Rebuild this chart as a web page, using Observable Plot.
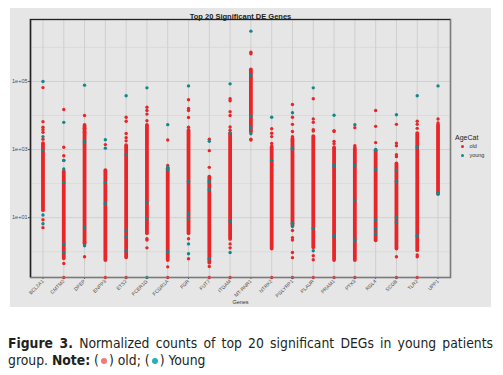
<!DOCTYPE html>
<html>
<head>
<meta charset="utf-8">
<script src="https://cdn.jsdelivr.net/npm/d3@7"></script>
<script src="https://cdn.jsdelivr.net/npm/@observablehq/plot@0.6"></script>
<style>
  html, body { margin: 0; padding: 0; background: #fff; }
  #wrap { position: relative; width: 503px; height: 375px; overflow: hidden; font-family: "Liberation Sans", Arial, sans-serif; }
  #panel { position: absolute; left: 10px; top: 8px; width: 481px; height: 299px; background: #e6e6e6; }
  #chart { position: absolute; left: 0; top: 0; }
  #legend { position: absolute; left: 455px; top: 133px; font-size: 7px; color: #222; line-height: 9px; }
  #legend .item { display: flex; align-items: center; font-size: 5.5px; color: #333; margin-left: 6px; }
  #legend .sw { display: inline-block; width: 3.4px; height: 3.4px; border-radius: 50%; margin-right: 5px; }
  #caption { position: absolute; left: 8px; top: 335px; width: 485px; font-family: "DejaVu Sans Condensed", "DejaVu Sans", sans-serif; font-stretch: condensed; font-size: 13.8px; line-height: 17px; color: #231f20; text-align: justify; }
  #caption b { font-weight: bold; }
  .cdot { display: inline-block; width: 6px; height: 6px; border-radius: 50%; vertical-align: 1px; margin: 0 2px; }
</style>
</head>
<body>
<div id="wrap">
  <div id="panel"></div>
  <div id="chart"></div>
  <div id="legend"></div>
  <div id="caption"></div>
</div>
<script>
// ---- data ----
const genes = ["BCL2A1","CMTM2","DPEP","ENPP3","ETS2","FCER1G","FCGR1A","FGR","FUT7","ITGAM",
               "MT-RNR1","NTRK2","PGLYRP1","PLAUR","PRAM1","PTX3","RGL4","SCGB","TLR2","UPP1"];
// dense range of "old" samples per gene (normalized counts)
const denseLow  = [16, 0.62, 1.7, 0.55, 0.66, 3.4, 0.55, 3.4, 0.46, 2.3, 3200, 1.2, 5.8, 1.3, 0.55, 0.55, 2.1, 1.2, 1.07, 48];
const denseHigh = [1500, 220, 5100, 240, 1300, 5100, 275, 3600, 155, 2900, 220000, 1170, 2050, 2400, 1070, 1000, 930, 380, 2950, 5100];
// scattered "old" samples outside / at edges of the dense range (0 = zero count)
const oldPoints = [
  [66000, 6600, 4500, 3800, 3200, 2000, 8.7, 5.1],
  [15000, 1170, 660, 480, 0.45, 0],
  [10000, 4200, 3200, 1.9, 0.71],
  [1400, 0],
  [8900, 6800, 2950, 2240, 1800, 0],
  [17400, 14000, 11000, 7000, 5000, 2.4, 2.2, 1.3],
  [1900, 340, 0.36, 0],
  [29000, 16000, 14000, 8700, 4500, 2.4, 0.62],
  [2000, 930, 300, 0.37, 0],
  [31000, 27000, 13000, 10000, 4600, 3700, 1.7, 1.3, 0],
  [720000, 650000, 2000, 1900],
  [4100, 3000, 2400, 1500, 0],
  [21000, 8900, 5500, 3400, 2400, 1800, 4.2, 2.6, 2.2, 0.95, 0.67, 0],
  [31000, 7900, 6300, 3800, 3500, 0.76, 0.58, 0],
  [3600, 3400, 1740, 1480, 1170, 0],
  [4400, 1300, 1150, 0],
  [14000, 4800, 1600],
  [5500, 1550, 1300, 710, 620, 0.71, 0],
  [6800, 5500, 4200, 0.81, 0.71, 0],
  [7900, 6000]
];
// "young" samples per gene
const youngPoints = [
  [100000, 2400, 930, 12, 6.6],
  [6300, 480, 270, 107, 1.7, 0.93],
  [78000, 1800, 1600, 5.1, 1.5],
  [1950, 1100, 107, 26],
  [38000, 710, 4.2, 2.75, 1.07],
  [65000, 28, 9.3, 0],
  [5400, 300, 260, 1.0],
  [74000, 117, 13, 9.5, 1.7, 0.87],
  [1740, 115, 66, 0.62],
  [85000, 3100, 7.8, 0.95],
  [3000000, 150000, 9500, 4400, 2900],
  [8900, 480],
  [12000, 1100, 1050, 6.8, 5.5],
  [65000, 4.8, 1.07],
  [10200, 360, 320, 2.95, 2.8],
  [5400, 340, 32, 2.2, 2.1],
  [1000, 940, 260, 8.5, 4.7, 3.3],
  [10500, 240, 117, 10.2, 7.2],
  [38000, 1170, 2.95],
  [74000, 55, 50]
];
const ageCats = ["old", "young"];
const ageColors = ["#e8262a", "#12888c"];
const yTicks = [10, 1000, 100000];
const yTickLabels = ["1e+01", "1e+03", "1e+05"];
const yMinor = [1, 100, 10000, 1000000];
const yFloor = 0.175; // zero counts drawn on the bottom edge

// ---- build tables ----
const ranges = genes.map((g, i) => ({gene: g, lo: denseLow[i], hi: denseHigh[i]}));
const pts = [];
genes.forEach((g, i) => {
  oldPoints[i].forEach(v => pts.push({gene: g, value: v === 0 ? yFloor : v, age: "old"}));
});
const ypts = [];
genes.forEach((g, i) => {
  youngPoints[i].forEach(v => ypts.push({gene: g, value: v === 0 ? yFloor : v, age: "young"}));
});

const chart = Plot.plot({
  width: 503,
  height: 310,
  marginLeft: 30,
  marginTop: 19,
  marginRight: 53,
  marginBottom: 33,
  style: {background: "transparent", fontFamily: "Liberation Sans, Arial, sans-serif", overflow: "visible"},
  x: {type: "point", domain: genes, padding: 0.6, round: false, label: null},
  y: {type: "log", domain: [yFloor, 6.6e6], label: null},
  color: {domain: ageCats, range: ageColors},
  marks: [
    Plot.gridY(yMinor, {stroke: "#d6d9d9", strokeOpacity: 1, strokeWidth: 0.8}),
    Plot.gridY(yTicks, {stroke: "#cdd2d2", strokeOpacity: 1, strokeWidth: 1}),
    Plot.gridX(genes, {stroke: "#cfcfcf", strokeOpacity: 1, strokeWidth: 1}),
    Plot.ruleX(ranges, {x: "gene", y1: "lo", y2: "hi", stroke: ageColors[0], strokeWidth: 3.8, strokeLinecap: "round"}),
    Plot.dot(pts, {x: "gene", y: "value", fill: "age", r: 1.7}),
    Plot.dot(ypts, {x: "gene", y: "value", fill: "age", r: 1.7}),
    Plot.axisY({ticks: yTicks, tickFormat: d => yTickLabels[yTicks.indexOf(d)], tickSize: 2, tickPadding: 1, fontSize: 5.5, label: null, color: "#4d4d4d"}),
    Plot.axisX({tickRotate: -45, tickSize: 2, tickPadding: 1, fontSize: 5, label: null, color: "#4d4d4d"}),
    Plot.frame({stroke: "#7a7a7a", strokeWidth: 1.6}),
    Plot.ruleX([genes[0]], {dx: -12.47, stroke: "#222", strokeWidth: 1.4}),
    Plot.ruleY([6.6e6], {stroke: "#222", strokeWidth: 1.2}),
    Plot.text(["Top 20 Significant DE Genes"], {frameAnchor: "top", dy: -6, fontSize: 7.5, fill: "#222", fontWeight: 600}),
    Plot.text(["Genes"], {frameAnchor: "bottom", dy: 26, fontSize: 5.5, fill: "#333"})
  ]
});
document.getElementById("chart").appendChild(chart);

// legend
const leg = document.getElementById("legend");
leg.innerHTML = `<div>AgeCat</div>` + ageCats.map((c, i) =>
  `<div class="item"><span class="sw" style="background:${ageColors[i]}"></span>${c}</div>`).join("");

// caption
document.getElementById("caption").innerHTML =
  `<b>Figure 3.</b> Normalized counts of top 20 significant DEGs in young patients group. <b>Note:</b> (<span class="cdot" style="background:#f07a78"></span>) old; (<span class="cdot" style="background:#1fb3b5"></span>) Young`;
</script>
</body>
</html>
